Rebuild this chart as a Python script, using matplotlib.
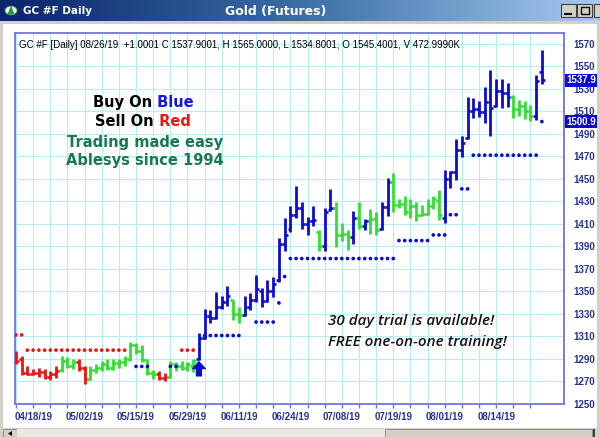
import matplotlib
matplotlib.use("Agg")
import matplotlib.pyplot as plt
from matplotlib.patches import Rectangle, Polygon, Circle
from matplotlib.colors import LinearSegmentedColormap
import numpy as np

plt.rcParams['font.family'] = ['Liberation Sans', 'DejaVu Sans']

# ---------------- data ----------------
dates = ['04/15/19', '04/16/19', '04/17/19', '04/18/19', '04/22/19', '04/23/19', '04/24/19', '04/25/19', '04/26/19', '04/29/19',
         '04/30/19', '05/01/19', '05/02/19', '05/03/19', '05/06/19', '05/07/19', '05/08/19', '05/09/19', '05/10/19', '05/13/19',
         '05/14/19', '05/15/19', '05/16/19', '05/17/19', '05/20/19', '05/21/19', '05/22/19', '05/23/19', '05/24/19', '05/28/19',
         '05/29/19', '05/30/19', '05/31/19', '06/03/19', '06/04/19', '06/05/19', '06/06/19', '06/07/19', '06/10/19', '06/11/19',
         '06/12/19', '06/13/19', '06/14/19', '06/17/19', '06/18/19', '06/19/19', '06/20/19', '06/21/19', '06/24/19', '06/25/19',
         '06/26/19', '06/27/19', '06/28/19', '07/01/19', '07/02/19', '07/03/19', '07/05/19', '07/08/19', '07/09/19', '07/10/19',
         '07/11/19', '07/12/19', '07/15/19', '07/16/19', '07/17/19', '07/18/19', '07/19/19', '07/22/19', '07/23/19', '07/24/19',
         '07/25/19', '07/26/19', '07/29/19', '07/30/19', '07/31/19', '08/01/19', '08/02/19', '08/05/19', '08/06/19', '08/07/19',
         '08/08/19', '08/09/19', '08/12/19', '08/13/19', '08/14/19', '08/15/19', '08/16/19', '08/19/19', '08/20/19', '08/21/19',
         '08/22/19', '08/23/19', '08/26/19']

opens = [1294, 1290, 1277, 1276, 1277, 1278, 1274, 1276, 1280, 1288,
         1283, 1287, 1282, 1272, 1280, 1282, 1285, 1282, 1286, 1287,
         1290, 1302, 1297, 1289, 1277, 1276, 1273, 1274, 1285, 1283,
         1282, 1283, 1290, 1308, 1328, 1326, 1336, 1340, 1342, 1330,
         1329, 1336, 1342, 1350, 1341, 1350, 1360, 1392, 1405, 1418,
         1424, 1410, 1412, 1403, 1390, 1422, 1424, 1400, 1401, 1398,
         1415, 1408, 1412, 1414, 1405, 1425, 1447, 1427, 1428, 1420,
         1426, 1418, 1419, 1426, 1430, 1415, 1450, 1456, 1476, 1486,
         1510, 1512, 1509, 1518, 1515, 1528, 1526, 1523, 1512, 1515,
         1510, 1506, 1545.4]
highs = [1297, 1292, 1283, 1281, 1282, 1281, 1279, 1283, 1292, 1291,
         1290, 1290, 1283, 1283, 1285, 1288, 1290, 1290, 1290, 1292,
         1305, 1304, 1302, 1290, 1280, 1279, 1277, 1288, 1287, 1288,
         1287, 1290, 1313, 1334, 1333, 1349, 1346, 1355, 1342, 1336,
         1346, 1348, 1364, 1353, 1360, 1363, 1397, 1415, 1426, 1444,
         1429, 1416, 1426, 1404, 1424, 1441, 1429, 1411, 1404, 1421,
         1429, 1414, 1423, 1420, 1429, 1451, 1455, 1432, 1435, 1432,
         1429, 1427, 1432, 1435, 1440, 1458, 1457, 1485, 1488, 1523,
         1522, 1519, 1532, 1547, 1539, 1539, 1535, 1525, 1520, 1519,
         1516, 1542, 1565.0]
lows = [1285, 1275, 1275, 1275, 1274, 1272, 1271, 1273, 1278, 1282,
        1281, 1279, 1267, 1271, 1277, 1279, 1280, 1280, 1282, 1283,
        1288, 1294, 1287, 1275, 1272, 1271, 1270, 1273, 1279, 1280,
        1279, 1278, 1289, 1307, 1322, 1325, 1334, 1337, 1324, 1322,
        1328, 1333, 1340, 1336, 1340, 1345, 1358, 1386, 1403, 1415,
        1405, 1400, 1408, 1386, 1386, 1421, 1389, 1395, 1387, 1392,
        1405, 1404, 1401, 1400, 1404, 1417, 1420, 1424, 1418, 1415,
        1412, 1417, 1418, 1423, 1413, 1411, 1442, 1449, 1469, 1485,
        1504, 1505, 1500, 1488, 1514, 1513, 1514, 1504, 1506, 1503,
        1501, 1502, 1534.8]
closes = [1288, 1277, 1276, 1277, 1278, 1274, 1276, 1279, 1288, 1283,
          1287, 1282, 1272, 1280, 1282, 1285, 1282, 1286, 1287, 1290,
          1302, 1297, 1289, 1277, 1276, 1273, 1274, 1285, 1283, 1282,
          1285, 1288, 1308, 1328, 1326, 1336, 1340, 1346, 1330, 1329,
          1336, 1342, 1352, 1341, 1350, 1356, 1392, 1400, 1418, 1424,
          1410, 1412, 1413, 1390, 1420, 1424, 1400, 1401, 1398, 1415,
          1408, 1412, 1414, 1404, 1425, 1447, 1427, 1428, 1420, 1426,
          1418, 1419, 1426, 1432, 1418, 1450, 1456, 1476, 1482, 1510,
          1512, 1509, 1518, 1513, 1528, 1526, 1523, 1512, 1515, 1510,
          1506, 1537, 1537.9]
# bar signal colour: R = sell, G = neutral, B = buy
bar_signal = ("RRRRRRRR" "GGG" "RR" "GGGGGGGGGGGG" "RR" "GGGGG" "BBBBBB" "GG"
              "BBBBBBBBBBBBB" "G" "BB" "GGG" "B" "G" "B" "GG" "BB" "GGGGGGGGG"
              "BBBBBBBBBBBB" "GGGG" "BB")
# trailing-stop dots (None = no dot)
stop_vals = [1311, 1311, 1297.5, 1297.5, 1297.5, 1297.5, 1297.5, 1297.5, 1297.5, 1297.5,
             1297.5, 1297.5, 1297.5, 1297.5, 1297.5, 1297.5, 1297.5, 1297.5, 1297.5, 1297.5,
             None, 1283, 1283, 1283, None, None, None, 1283, 1283, 1297.5,
             1297.5, 1297.5, None, 1310.5, 1310.5, 1310.5, 1310.5, 1310.5, 1310.5, 1310.5,
             None, None, 1322.5, 1322.5, 1322.5, 1322.5, 1339.5, 1363, 1379, 1379,
             1379, 1379, 1379, 1379, 1379, 1379, 1379, 1379, 1379, 1379,
             1379, 1379, 1379, 1379, 1379, 1379, 1379, 1395, 1395, 1395,
             1395, 1395, 1395, 1400, 1400, 1400, 1418, 1418, 1441, 1441,
             1471, 1471, 1471, 1471, 1471, 1471, 1471, 1471, 1471, 1471,
             1471, 1471, 1500.9]
stop_side = ("SSSSSSSSSSSSSSSSSSSS" "L" "LLL" "LLL" "LL" "SSS" "L" "LLLLLLL" "LL"
             "LLLL" "LL" "LLLLLLLLLLLLLLLLLLL" "LLLLLL" "LLL" "LL" "LL" "LLLLLLLLLLLL" "L")
buy_signal_idx = 32
buy_signal_price = 1274
y_ticks = [1250, 1270, 1290, 1310, 1330, 1350, 1370, 1390, 1410, 1430, 1450, 1470,
           1490, 1510, 1530, 1550, 1570]
last_close_label = 1537.9
last_stop_label = 1500.9
header = "GC #F [Daily] 08/26/19  +1.0001 C 1537.9001, H 1565.0000, L 1534.8001, O 1545.4001, V 472.9990K"

# ---------------- figure / window chrome ----------------
W, H = 600, 437
fig = plt.figure(figsize=(W / 100, H / 100), dpi=100)
fig.patch.set_facecolor('#d4d0c8')


def fx(x):
    return x / W


def fy(y):
    return 1 - y / H


def frect(x0, y0, x1, y1, **kw):
    r = Rectangle((fx(x0), fy(y1)), fx(x1) - fx(x0), fy(y0) - fy(y1),
                  transform=fig.transFigure, **kw)
    fig.add_artist(r)
    return r


# title bar gradient
ax_t = fig.add_axes([0, fy(21), 1, 21 / H], zorder=1)
grad = np.linspace(0, 1, 256).reshape(1, -1)
ax_t.imshow(grad, aspect='auto', extent=[0, 1, 0, 1],
            cmap=LinearSegmentedColormap.from_list('tb', ['#0a246a', '#3a6ea5', '#a6caf0']))
ax_t.axis('off')
fig.text(fx(23), fy(11), "GC #F Daily", color='white', fontsize=7.5, fontweight='bold',
         family='DejaVu Sans', va='center', ha='left', zorder=4)
fig.text(fx(276), fy(11.5), "Gold (Futures)", color='white', fontsize=9, fontweight='bold',
         family='DejaVu Sans', va='center', ha='center', zorder=4)
fig.add_artist(Circle((fx(11), fy(10.5)), 6 / W, transform=fig.transFigure,
                      facecolor='#e8f0e8', edgecolor='#6a8a6a', lw=0.6, zorder=4))
fig.add_artist(Polygon([(fx(7.5), fy(14.5)), (fx(11), fy(5.5)), (fx(14.5), fy(14.5))],
                       closed=True, transform=fig.transFigure, facecolor='#1f9a3a',
                       edgecolor='none', zorder=5))
# window buttons
for bx0, bx1 in [(561, 576), (577, 592), (594, 601)]:
    frect(bx0, 4, bx1, 17, facecolor='#d4d0c8', edgecolor='#404040', lw=0.8, zorder=4)
fig.add_artist(plt.Line2D([fx(565), fx(571)], [fy(14), fy(14)], transform=fig.transFigure,
                          color='black', lw=1.5, zorder=5))
frect(580.5, 6.5, 588.5, 14, facecolor='none', edgecolor='black', lw=1.0, zorder=5)

# white chart area
frect(3, 24, 597, 428, facecolor='white', edgecolor='none', zorder=1)

# scrollbar
frect(3, 429, 17, 437, facecolor='#d4d0c8', edgecolor='#808080', lw=0.6, zorder=4)
fig.add_artist(Polygon([(fx(8), fy(433.5)), (fx(12), fy(431)), (fx(12), fy(436))], closed=True,
                       transform=fig.transFigure, facecolor='black', zorder=5))
frect(17, 429, 385, 437, facecolor='#eae8e3', edgecolor='none', zorder=4)
frect(385, 429, 592, 437, facecolor='#d4d0c8', edgecolor='#808080', lw=0.6, zorder=4)
frect(593, 429, 595, 437, facecolor='#404040', edgecolor='none', zorder=4)

# ---------------- main price axes ----------------
ax = fig.add_axes([fx(14.5), fy(403.5), fx(564) - fx(14.5), fy(33) - fy(403.5)], zorder=2)
ax.set_facecolor('white')
n = len(closes)
x = np.arange(n)
ax.set_xlim(-0.26, 95.87)
ax.set_ylim(1251.3, 1579.75)

border = '#7474da'
navy = '#28318f'
for s in ax.spines.values():
    s.set_color(border)
    s.set_linewidth(1.3)

ax.set_yticks(y_ticks)
ax.yaxis.tick_right()
ax.tick_params(axis='y', length=0, pad=6.5, labelsize=7, labelcolor=navy)
for lab in ax.get_yticklabels():
    lab.set_fontweight('bold')

tick_idx = list(range(0, n, 3))
ax.set_xticks(tick_idx)
ax.set_xticklabels([dates[i] if (i - 3) % 9 == 0 else '' for i in tick_idx])
ax.tick_params(axis='x', direction='out', length=3, width=1, color=border, pad=3,
               labelsize=7, labelcolor=navy)
for lab in ax.get_xticklabels():
    lab.set_fontweight('bold')

ax.grid(True, color='#b2eef2', lw=0.8, zorder=0)
ax.set_axisbelow(True)

col_map = {'R': '#ee1212', 'G': '#30e030', 'B': '#0c0cd0'}
cols = [col_map[c] for c in bar_signal]
tw = 0.5
ax.vlines(x, lows, highs, colors=cols, lw=2.0, zorder=3)
ax.hlines(opens, x - tw, x, colors=cols, lw=1.9, zorder=3)
ax.hlines(closes, x, x + tw, colors=cols, lw=1.9, zorder=3)

side_col = {'S': '#ee1212', 'L': '#0c0cd0'}
sx = [i for i in range(n) if stop_vals[i] is not None]
sy = [stop_vals[i] for i in sx]
sc = [side_col[stop_side[i]] for i in sx]
ax.scatter(sx, sy, s=7, c=sc, marker='o', linewidths=0, zorder=3)

# buy arrow
bi, bp = buy_signal_idx, buy_signal_price
arrow = Polygon([(bi - 0.55, bp), (bi + 0.55, bp), (bi + 0.55, bp + 6.5), (bi + 1.35, bp + 6.5),
                 (bi, bp + 14), (bi - 1.35, bp + 6.5), (bi - 0.55, bp + 6.5)],
                closed=True, facecolor='#0c0cd0', edgecolor='none', zorder=4)
ax.add_patch(arrow)

# ---------------- texts ----------------
fig.text(fx(19), fy(44.5), header, fontsize=7, color='black', va='center', ha='left', zorder=4)

big = dict(fontsize=10.5, fontweight='bold', family='DejaVu Sans', va='bottom', ha='left', zorder=4)
t1 = fig.text(fx(93), fy(110), "Buy On", color='black', **big)
ax.annotate(" Blue", xy=(1, 0), xycoords=t1, color='#1414f0', annotation_clip=False, **big)
t2 = fig.text(fx(95), fy(129), "Sell On", color='black', **big)
ax.annotate(" Red", xy=(1, 0), xycoords=t2, color='#f01414', annotation_clip=False, **big)
fig.text(fx(145), fy(142), "Trading made easy", color='#1a7850', fontsize=10.5, fontweight='bold',
         family='DejaVu Sans', va='center', ha='center', zorder=4)
fig.text(fx(145), fy(160.5), "Ablesys since 1994", color='#1a7850', fontsize=10.5, fontweight='bold',
         family='DejaVu Sans', va='center', ha='center', zorder=4)

it = dict(fontsize=11, style='italic', fontweight='semibold', family='Open Sans', color='#151515',
          va='center', ha='left', zorder=4)
fig.text(fx(328), fy(321), "30 day trial is available!", **it)
fig.text(fx(328), fy(342), "FREE one-on-one training!", **it)

# right-side price boxes
for val, tcol in [(last_close_label, 'white'), (last_stop_label, '#ffffe0')]:
    ypix = 33 + (1579.75 - val) / (1579.75 - 1251.3) * (403.5 - 33)
    frect(565, ypix - 6.5, 600, ypix + 6.5, facecolor='#0a0ad0', edgecolor='none', zorder=5)
    fig.text(fx(566.5), fy(ypix), f"{val:.1f}", color=tcol, fontsize=7, fontweight='bold',
             va='center', ha='left', zorder=6)

# window frame edges on top
frect(597, 21, 601, 429, facecolor='#d4d0c8', edgecolor='none', zorder=7)
frect(-1, 21, 3, 429, facecolor='#d4d0c8', edgecolor='none', zorder=7)
frect(-1, 21, 601, 24, facecolor='#d4d0c8', edgecolor='none', zorder=7)

fig.savefig('out.png', dpi=100, facecolor=fig.get_facecolor())
